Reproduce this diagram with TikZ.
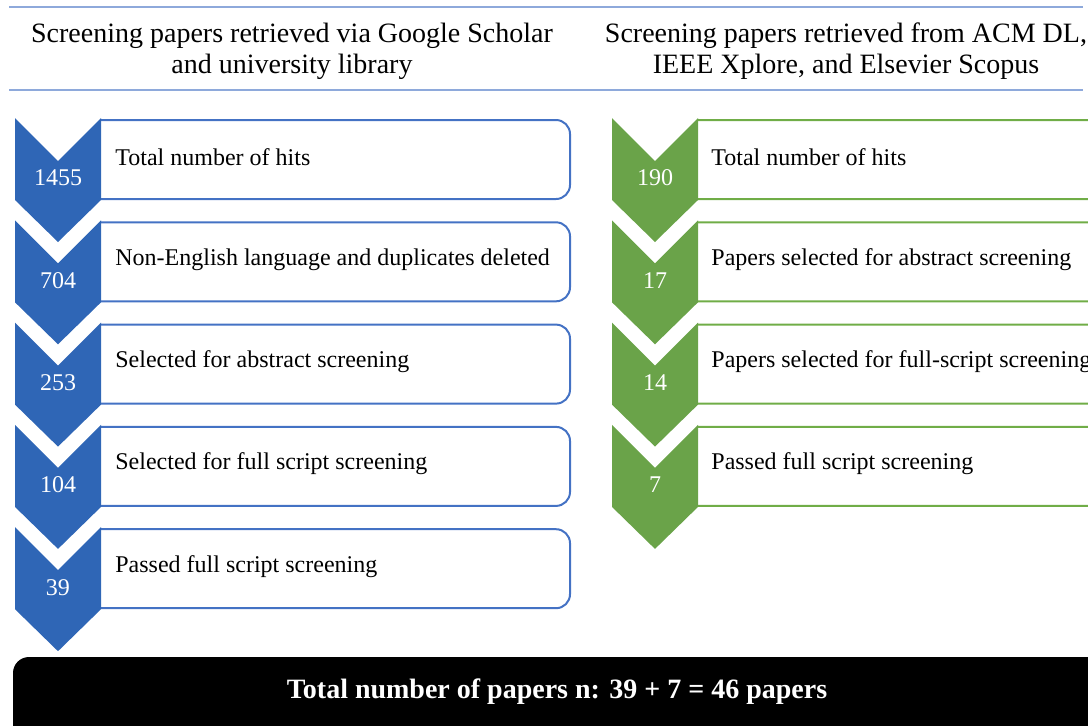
\documentclass[tikz,border=0pt]{standalone}
\usepackage{fontspec}
\setmainfont{Liberation Serif}
\definecolor{cblue}{HTML}{2F66B6}
\definecolor{bblue}{HTML}{4472C4}
\definecolor{cgreen}{HTML}{6AA349}
\definecolor{bgreen}{HTML}{70AD47}
\definecolor{hline}{HTML}{8EA9DB}
\begin{document}
\begin{tikzpicture}[x=0.5pt,y=-0.5pt,
  boxtext/.style={anchor=west,inner sep=0pt,font=\fontsize{12}{14}\selectfont},
  numtext/.style={inner sep=0pt,text=white,font=\fontsize{12}{14}\selectfont},
  headtext/.style={align=center,inner sep=0pt,font=\fontsize{14}{15.5}\selectfont},
  steppath/.style={line width=1pt,rounded corners=7pt}]
\useasboundingbox (0,0) rectangle (1088,725);
\clip (0,0) rectangle (1088,725);
% header
\draw[hline,line width=0.6pt] (9,7) -- (1083,7);
\draw[hline,line width=0.6pt] (9,90) -- (1083,90);
\node[headtext] (hl) at (292,51) {Screening papers retrieved via Google Scholar\\and university library};
\node[headtext] (hr) at (846,51) {Screening papers retrieved from ACM DL,\\IEEE Xplore, and Elsevier Scopus};
% left column
\foreach \i/\n/\t in {0/1455/Total number of hits,
                      1/704/Non-English language and duplicates deleted,
                      2/253/Selected for abstract screening,
                      3/104/Selected for full script screening,
                      4/39/Passed full script screening}{
  \pgfmathsetmacro{\B}{120+102.3*\i}
  \draw[bblue,steppath] (101,\B) -- (570,\B) -- (570,\B+79) -- (101,\B+79);
  \fill[cblue] (15,\B-2) -- (58,\B+41) -- (101,\B-2) -- (101,\B+80) -- (58,\B+122) -- (15,\B+80) -- cycle;
  \node[boxtext] (lt\i) at (115,\B+37) {\t};
  \node[numtext] (ln\i) at (58,\B+58) {\n};
}
% right column
\foreach \i/\n/\t in {0/190/Total number of hits,
                      1/17/Papers selected for abstract screening,
                      2/14/Papers selected for full-script screening,
                      3/7/Passed full script screening}{
  \pgfmathsetmacro{\B}{120+102.3*\i}
  \draw[bgreen,steppath] (697,\B) -- (1120,\B) -- (1120,\B+79) -- (697,\B+79);
  \fill[cgreen] (612,\B-2) -- (655,\B+41) -- (698,\B-2) -- (698,\B+80) -- (655,\B+122) -- (612,\B+80) -- cycle;
  \node[boxtext] (rt\i) at (711,\B+37) {\t};
  \node[numtext] (rn\i) at (655,\B+58) {\n};
}
% total bar
\fill[black,rounded corners=8pt] (13,657) rectangle (1130,770);
\node[inner sep=0pt,text=white,font=\fontsize{14}{16}\selectfont\bfseries] (total) at (557,692) {Total number of papers n: 39 + 7 = 46 papers};
\end{tikzpicture}
\end{document}
